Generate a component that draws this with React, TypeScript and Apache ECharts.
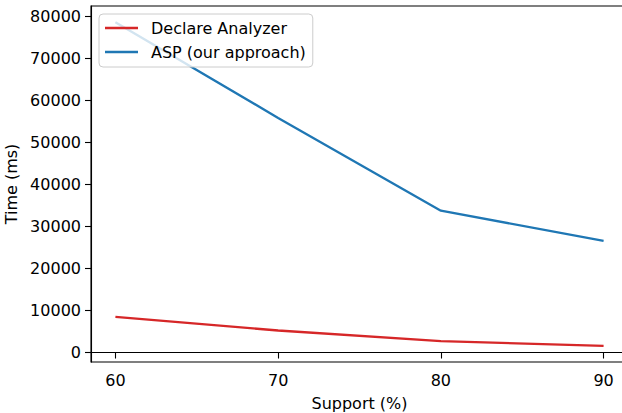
import React, { useEffect, useRef } from "react";
import * as echarts from "echarts";

const supportLevels = [60, 70, 80, 90];
const declareAnalyzer = [8500, 5250, 2700, 1600];
const aspApproach = [78700, 55900, 33800, 26600];
const xTicks = [60, 70, 80, 90];
const yTicks = [0, 10000, 20000, 30000, 40000, 50000, 60000, 70000, 80000];

const FONT = "DejaVu Sans";
const FS = 16;

export default function App() {
  const ref = useRef<HTMLDivElement>(null);
  useEffect(() => {
    if (!ref.current) return;
    const chart = echarts.init(ref.current, undefined, { renderer: "svg" });
    const axisCommon = {
      axisLine: { show: true, lineStyle: { color: "#000", width: 1.1 } },
      axisTick: { show: true, length: 6, inside: false, lineStyle: { color: "#000", width: 1.1 } },
      splitLine: { show: false },
      nameTextStyle: { fontFamily: FONT, fontSize: FS, color: "#000" },
    };
    chart.setOption({
      animation: false,
      backgroundColor: "#fff",
      grid: {
        left: 91,
        width: 537,
        top: 6,
        height: 356,
        show: true,
        borderColor: "#000",
        borderWidth: 1.1,
        containLabel: false,
        outerBoundsMode: "none",
      },
      legend: {
        show: true,
        orient: "vertical",
        left: 99,
        top: 14,
        padding: [6, 7, 7, 6],
        itemGap: 8,
        itemWidth: 33,
        itemHeight: 2.4,
        icon: "rect",
        backgroundColor: "rgba(255,255,255,0.8)",
        borderColor: "#cccccc",
        borderWidth: 1,
        borderRadius: 4,
        textStyle: { fontFamily: FONT, fontSize: FS, color: "#000", padding: [0, 0, 0, 8] },
        data: ["Declare Analyzer", "ASP (our approach)"],
      },
      xAxis: {
        type: "value",
        min: 58.5,
        max: 91.5,
        name: "Support (%)",
        nameLocation: "middle",
        nameGap: 33,
        ...axisCommon,
        axisTick: { ...axisCommon.axisTick, customValues: xTicks },
        axisLabel: {
          customValues: xTicks,
          margin: 10,
          fontFamily: FONT,
          fontSize: FS,
          color: "#000",
          formatter: (v: number) => String(v),
        },
      },
      yAxis: {
        type: "value",
        min: -2255,
        max: 82555,
        name: "Time (ms)",
        nameLocation: "middle",
        nameGap: 66,
        nameRotate: 90,
        ...axisCommon,
        axisTick: { ...axisCommon.axisTick, customValues: yTicks },
        axisLabel: {
          customValues: yTicks,
          margin: 10,
          fontFamily: FONT,
          fontSize: FS,
          color: "#000",
          formatter: (v: number) => String(v),
        },
      },
      series: [
        {
          name: "Declare Analyzer",
          type: "line",
          data: supportLevels.map((x, i) => [x, declareAnalyzer[i]]),
          showSymbol: false,
          symbol: "none",
          color: "#d62728",
          lineStyle: { width: 2.3, color: "#d62728" },
        },
        {
          name: "ASP (our approach)",
          type: "line",
          data: supportLevels.map((x, i) => [x, aspApproach[i]]),
          showSymbol: false,
          symbol: "none",
          color: "#1f77b4",
          lineStyle: { width: 2.3, color: "#1f77b4" },
        },
      ],
    });
    return () => chart.dispose();
  }, []);
  return (
    <div
      ref={ref}
      style={{ position: "absolute", left: 0, top: 0, width: 622, height: 413, overflow: "hidden" }}
    />
  );
}
